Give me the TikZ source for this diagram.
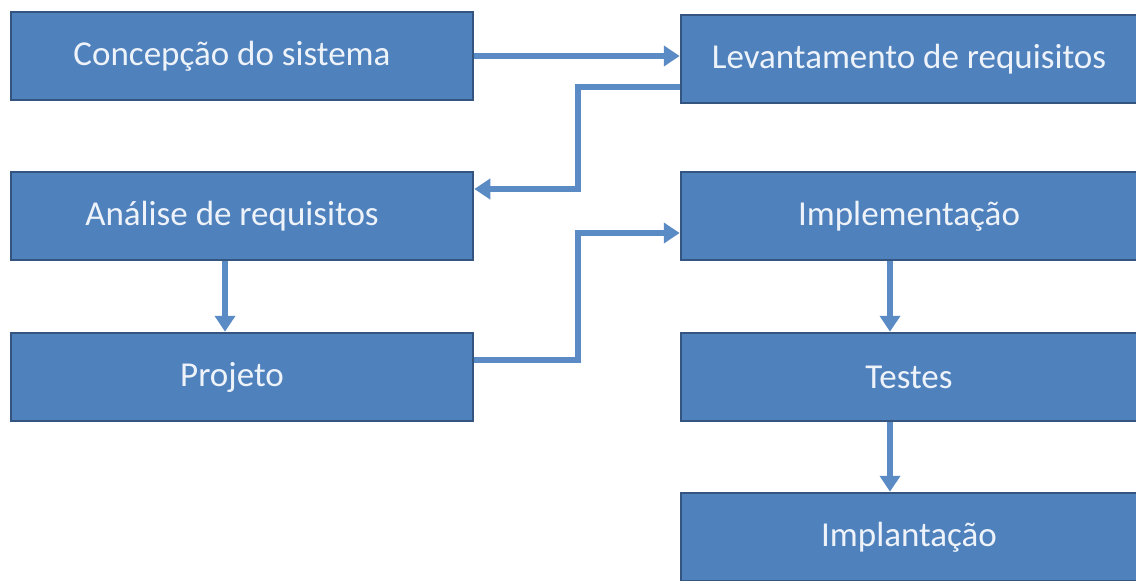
\documentclass[tikz,border=0pt]{standalone}
\usepackage{fontspec}
\setmainfont{Carlito}
\usepackage{xcolor}
\usetikzlibrary{arrows.meta, calc, positioning}

\definecolor{boxblue}{HTML}{4F81BD}
\definecolor{boxedge}{HTML}{34557F}
\definecolor{flowblue}{HTML}{5A8BC4}
\definecolor{boxtext}{HTML}{EEF3FA}

\begin{document}
\begin{tikzpicture}%
	[x=1pt, y=-1pt,
	stage/.style={draw=boxedge, line width=2.5pt, fill=boxblue, text=boxtext,
		minimum height=88pt, inner sep=0pt,
		font=\fontsize{35}{40}\selectfont},
	leftcol/.style={stage, minimum width=462pt,
		execute at end node={\hspace*{20pt}}},
	rightcol/.style={stage, minimum width=456pt},
	flow/.style={draw=flowblue, line width=6pt,
		-{Triangle[length=16pt,width=20pt]}}]
%
\useasboundingbox (0,0) rectangle (1136,581);
%
%% Left column
%%
\node[leftcol] (concepcao) at (242,56)  {Concepção do sistema};
\node[leftcol] (analise)   at (242,216) {Análise de requisitos};
\node[leftcol] (projeto)   at (242,377) {Projeto};
%%
%% Right column
%%
\node[rightcol] (levantamento) at (909,59)  {Levantamento de requisitos};
\node[rightcol] (implementacao) at (909,216) {Implementação};
\node[rightcol] (testes)       at (909,377) {Testes};
\node[rightcol] (implantacao)  at (909,537) {Implantação};
%%
%% Connectors
%%
\draw[flow] (concepcao.east) -- (concepcao.east -| levantamento.west);
\draw[flow] ([yshift=-28pt]levantamento.west) -- (578,87) |- ([yshift=27pt]analise.east);
\draw[flow] ([xshift=-17pt]analise.south) -- ([xshift=-17pt]projeto.north);
\draw[flow] ([yshift=17pt]projeto.east) -- (578,360) |- ([yshift=-17pt]implementacao.west);
\draw[flow] ([xshift=-19pt]implementacao.south) -- ([xshift=-19pt]testes.north);
\draw[flow] ([xshift=-19pt]testes.south) -- ([xshift=-19pt]implantacao.north);
%%
\end{tikzpicture}
\end{document}
